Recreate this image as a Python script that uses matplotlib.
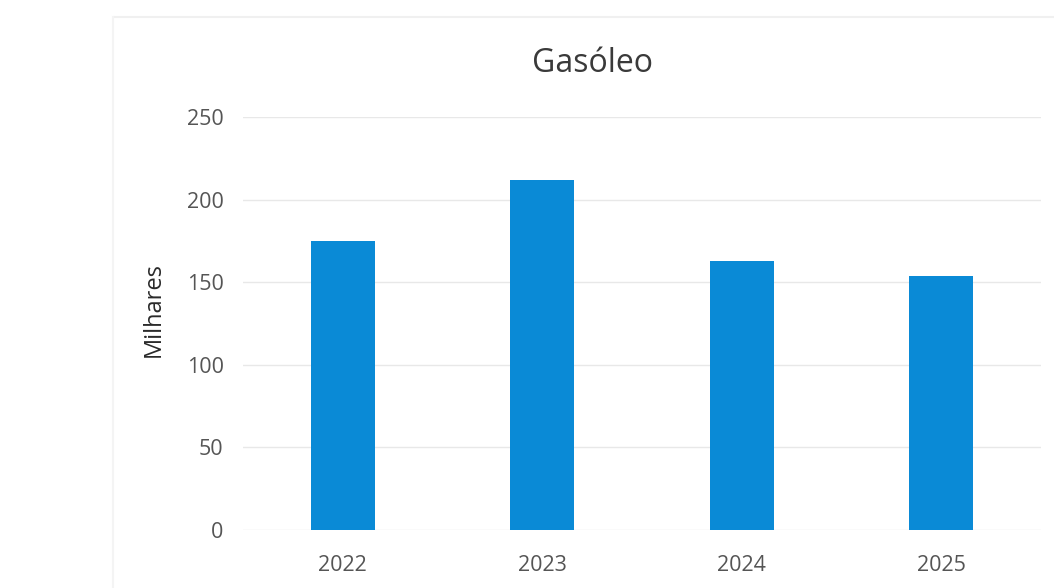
import matplotlib.pyplot as plt
from matplotlib.lines import Line2D

# Data (thousands)
years = ['2022', '2023', '2024', '2025']
values = [175, 212, 163, 154]

bar_color = '#0A8AD6'
plt.rcParams['font.family'] = ['Open Sans', 'DejaVu Sans']

fig = plt.figure(figsize=(10.54, 5.88), dpi=100)
ax = fig.add_axes([243 / 1054, 1 - 530 / 588, (1041 - 243) / 1054, (530 - 117) / 588])

ax.bar(years, values, width=0.32, color=bar_color, zorder=3)
ax.set_ylim(0, 250)
ax.set_xlim(-0.5, 3.5)
ax.set_yticks(range(0, 251, 50))
ax.grid(axis='y', color='#e8e8e8', linewidth=1, zorder=0)
for s in ax.spines.values():
    s.set_visible(False)
ax.tick_params(axis='both', length=0, labelsize=15.5, labelcolor='#555555')
ax.tick_params(axis='y', pad=14)
ax.tick_params(axis='x', pad=18)
ax.set_ylabel('Milhares', fontsize=17, color='#2a2a2a')
ax.yaxis.set_label_coords(-0.097, 0.533)

fig.text(592 / 1054, 1 - 63 / 588, 'Gasóleo', ha='center', va='center',
         fontsize=23, color='#3a3a3a')

# faint chart border from the scanned source
fig.add_artist(Line2D([115 / 1054, 1], [1 - 17 / 588, 1 - 17 / 588],
                      transform=fig.transFigure, color='#f0f0f0', linewidth=1.5))
fig.add_artist(Line2D([113 / 1054, 113 / 1054], [0, 1 - 17 / 588],
                      transform=fig.transFigure, color='#f4f4f4', linewidth=1.5))

fig.savefig('out.png', dpi=100)
